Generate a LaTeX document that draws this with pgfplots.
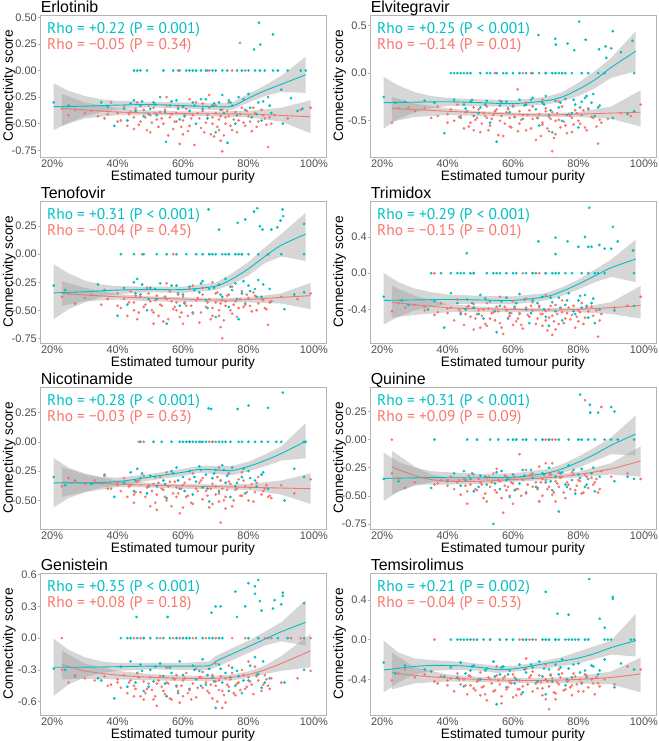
\documentclass[border=0pt]{standalone}
\usepackage{pgfplots}
\pgfplotsset{compat=1.18}
\usepackage{fontspec}
\setmainfont{Liberation Sans}
\newfontfamily\rhofont{PT Sans}
\definecolor{cteal}{HTML}{00BFC4}
\definecolor{cred}{HTML}{F8766D}
\definecolor{bandgray}{HTML}{999999}
\definecolor{frame}{HTML}{B3B3B3}
\definecolor{ticktxt}{HTML}{4D4D4D}
\pgfplotsset{
 every axis title/.style={at={(axis description cs:0.002,1.021)},anchor=base west,inner sep=0,font=\fontsize{16}{16}\selectfont},
 panel/.style={width=286bp,height=142bp,scale only axis,xmin=0.163,xmax=1.037,
  xtick={0.2,0.4,0.6,0.8,1.0},xticklabels={20\%,40\%,60\%,80\%,100\%},
  axis line style={frame,line width=0.6bp},
  every tick/.style={frame,line width=0.6bp},
  tick align=outside, tick pos=left, major tick length=2.5bp,
  ticklabel style={font=\fontsize{11}{11}\selectfont,text=ticktxt,inner sep=0.6bp},
  xlabel={Estimated tumour purity}, ylabel={Connectivity score},
  label style={font=\fontsize{13.7}{14}\selectfont},
  xlabel style={at={(axis description cs:0.5,-0.165)},anchor=base},
  ylabel style={at={(axis description cs:-0.0944,0.5)},anchor=base},
  axis on top, clip=true},
 tpt/.style={only marks,color=cteal,mark=*,mark size=1.15bp,mark options={solid,fill=cteal,draw=none}},
 rpt/.style={only marks,color=cred,mark=*,mark size=1.15bp,mark options={solid,fill=cred,draw=none}},
 band/.style={draw=none,fill=bandgray,fill opacity=0.4,mark=none},
 tline/.style={cteal,line width=0.9bp,mark=none,smooth},
 rline/.style={cred,line width=0.9bp,mark=none,smooth},
}
\tikzset{rho/.style={anchor=base west,inner sep=0,font=\rhofont\fontsize{15.5}{16}\selectfont}}
\begin{document}
\begin{tikzpicture}
\path[use as bounding box] (0bp,0bp) rectangle (659bp,741bp);

% ---------------- 1 Erlotinib
\begin{axis}[panel,at={(40bp,726bp)},anchor=north west,title={Erlotinib},ymin=-0.813,ymax=0.522,
 ytick={-0.75,-0.5,-0.25,0,0.25,0.5},yticklabels={-0.75,-0.50,-0.25,0.00,0.25,0.50}]
\addplot[tpt] coordinates {(0.205,-0.30)(0.25,-0.33)(0.35,-0.30)(0.37,-0.34)(0.39,-0.52)(0.42,-0.36)(0.43,-0.47)(0.44,-0.31)(0.45,-0.28)(0.47,-0.33)(0.48,-0.43)(0.50,-0.36)(0.51,-0.30)(0.52,-0.42)(0.53,-0.25)(0.548,-0.67)(0.56,-0.33)(0.58,-0.28)(0.59,-0.46)(0.60,-0.34)(0.62,-0.38)(0.63,-0.30)(0.64,-0.50)(0.66,-0.36)(0.67,-0.27)(0.69,-0.33)(0.70,-0.58)(0.71,-0.30)(0.72,-0.23)(0.725,-0.40)(0.736,-0.68)(0.74,-0.28)(0.75,-0.33)(0.76,-0.50)(0.77,-0.25)(0.79,-0.37)(0.80,-0.22)(0.81,-0.44)(0.83,-0.30)(0.84,-0.47)(0.86,-0.25)(0.87,-0.40)(0.90,-0.18)(0.905,-0.50)(0.93,-0.26)(0.95,-0.38)(0.965,-0.36)
 (0.455,-0.38)(0.475,-0.29)(0.495,-0.41)(0.515,-0.32)(0.545,-0.39)(0.565,-0.29)(0.585,-0.36)(0.605,-0.43)(0.635,-0.33)(0.655,-0.27)(0.675,-0.45)(0.695,-0.31)(0.715,-0.37)(0.745,-0.30)(0.765,-0.42)(0.785,-0.27)(0.805,-0.35)(0.825,-0.41)(0.845,-0.29)(0.865,-0.33)};
\addplot[rpt] coordinates {(0.23,-0.36)(0.25,-0.42)(0.27,-0.37)(0.30,-0.40)(0.32,-0.38)(0.34,-0.43)(0.36,-0.45)(0.38,-0.30)(0.40,-0.40)(0.41,-0.47)(0.42,-0.34)(0.43,-0.52)(0.44,-0.39)(0.45,-0.44)(0.46,-0.30)(0.47,-0.48)(0.48,-0.37)(0.49,-0.56)(0.50,-0.42)(0.51,-0.35)(0.52,-0.46)(0.53,-0.39)(0.54,-0.50)(0.55,-0.33)(0.56,-0.44)(0.57,-0.55)(0.58,-0.40)(0.59,-0.69)(0.60,-0.47)(0.61,-0.36)(0.62,-0.52)(0.63,-0.42)(0.635,-0.70)(0.64,-0.30)(0.65,-0.45)(0.66,-0.38)(0.665,-0.58)(0.67,-0.49)(0.68,-0.35)(0.69,-0.44)(0.695,-0.62)(0.70,-0.40)(0.705,-0.53)(0.71,-0.46)(0.715,-0.66)(0.72,-0.76)(0.72,-0.37)(0.73,-0.50)(0.74,-0.43)(0.75,-0.56)(0.76,-0.39)(0.77,-0.47)(0.78,-0.35)(0.79,-0.52)(0.80,-0.43)(0.81,-0.57)(0.82,-0.40)(0.83,-0.48)(0.84,-0.37)(0.85,-0.45)(0.86,-0.72)(0.87,-0.50)(0.88,-0.42)(0.92,-0.45)(0.96,-0.37)(0.99,-0.35)(0.55,-0.25)(0.62,-0.27)(0.68,-0.23)(0.60,-0.60)(0.50,-0.58)(0.66,-0.31)(0.74,-0.30)(0.58,-0.48)(0.45,-0.55)
 (0.435,-0.41)(0.455,-0.36)(0.465,-0.51)(0.485,-0.44)(0.495,-0.33)(0.505,-0.49)(0.515,-0.40)(0.525,-0.53)(0.535,-0.45)(0.545,-0.37)(0.555,-0.61)(0.565,-0.41)(0.575,-0.48)(0.585,-0.34)(0.595,-0.53)(0.605,-0.41)(0.615,-0.57)(0.625,-0.45)(0.645,-0.40)(0.655,-0.54)(0.675,-0.42)(0.685,-0.60)(0.69,-0.50)(0.70,-0.33)(0.71,-0.56)(0.715,-0.43)(0.725,-0.61)(0.73,-0.44)(0.735,-0.38)(0.745,-0.52)(0.755,-0.46)(0.765,-0.58)(0.775,-0.41)(0.785,-0.49)(0.795,-0.38)(0.805,-0.48)(0.815,-0.35)(0.825,-0.53)(0.845,-0.42)(0.855,-0.51)(0.865,-0.44)(0.40,-0.48)(0.37,-0.41)
 (0.585,0)(0.675,0)(0.68,0)(0.75,0)(0.79,0)(0.774,0.26)};
\addplot[tpt] coordinates {(0.45,0)(0.46,0)(0.47,0)(0.49,0)(0.54,0)(0.57,0)(0.59,0)(0.61,0)(0.62,0)(0.63,0)(0.64,0)(0.655,0)(0.67,0)(0.69,0)(0.70,0)(0.72,0)(0.735,0)(0.765,0)(0.78,0)(0.80,0)(0.82,0)(0.835,0)(0.85,0)(0.875,0)(0.89,0)(0.92,0)(0.96,0)(0.975,0)(0.832,0.45)(0.875,0.34)(0.836,0.245)(0.817,0.198)};
\addplot[band] coordinates {(0.23,-0.22)(0.3,-0.30)(0.4,-0.355)(0.5,-0.375)(0.6,-0.385)(0.7,-0.385)(0.8,-0.38)(0.9,-0.35)(0.99,-0.28)(0.99,-0.59)(0.9,-0.48)(0.8,-0.44)(0.7,-0.43)(0.6,-0.425)(0.5,-0.42)(0.4,-0.42)(0.3,-0.45)(0.23,-0.52)(0.23,-0.22)};
\addplot[rline] coordinates {(0.23,-0.355)(0.4,-0.39)(0.6,-0.405)(0.8,-0.41)(0.99,-0.435)};
\addplot[band] coordinates {(0.205,-0.12)(0.25,-0.19)(0.3,-0.24)(0.35,-0.27)(0.4,-0.285)(0.5,-0.295)(0.6,-0.30)(0.7,-0.31)(0.75,-0.30)(0.8,-0.22)(0.85,-0.14)(0.9,-0.05)(0.975,0.13)(0.975,-0.21)(0.9,-0.20)(0.85,-0.24)(0.8,-0.30)(0.75,-0.37)(0.7,-0.37)(0.6,-0.36)(0.5,-0.345)(0.4,-0.365)(0.35,-0.39)(0.3,-0.43)(0.25,-0.49)(0.205,-0.56)(0.205,-0.12)};
\addplot[tline] coordinates {(0.205,-0.34)(0.3,-0.335)(0.4,-0.325)(0.5,-0.32)(0.6,-0.33)(0.7,-0.34)(0.75,-0.335)(0.8,-0.26)(0.85,-0.19)(0.9,-0.13)(0.975,-0.04)};
\node[rho,text=cteal] at (axis description cs:0.0245,0.873) {Rho = +0.22 (P = 0.001)};
\node[rho,text=cred] at (axis description cs:0.0245,0.754) {Rho = −0.05 (P = 0.34)};
\end{axis}

% ---------------- 2 Elvitegravir
\begin{axis}[panel,at={(370bp,726bp)},anchor=north west,title={Elvitegravir},ymin=-0.88,ymax=0.61,
 ytick={-0.5,0,0.5},yticklabels={-0.5,0.0,0.5}]
\addplot[tpt] coordinates {(0.205,-0.25)(0.24,-0.31)(0.27,-0.30)(0.33,-0.29)(0.36,-0.31)(0.39,-0.63)(0.42,-0.28)(0.44,-0.47)(0.45,-0.33)(0.47,-0.30)(0.48,-0.45)(0.50,-0.36)(0.52,-0.29)(0.53,-0.52)(0.55,-0.72)(0.56,-0.34)(0.58,-0.30)(0.59,-0.41)(0.60,-0.35)(0.62,-0.28)(0.63,-0.48)(0.64,-0.33)(0.66,-0.26)(0.67,-0.38)(0.68,-0.55)(0.69,-0.31)(0.70,-0.24)(0.71,-0.44)(0.72,-0.62)(0.73,-0.29)(0.74,-0.36)(0.75,-0.50)(0.76,-0.27)(0.78,-0.42)(0.79,-0.33)(0.80,-0.57)(0.81,-0.30)(0.82,-0.26)(0.83,-0.38)(0.84,-0.31)(0.85,-0.45)(0.86,-0.36)(0.905,-0.47)(0.95,-0.43)(0.97,-0.40)
 (0.455,-0.37)(0.475,-0.28)(0.495,-0.42)(0.515,-0.33)(0.545,-0.40)(0.565,-0.30)(0.585,-0.37)(0.605,-0.46)(0.635,-0.34)(0.655,-0.28)(0.675,-0.47)(0.695,-0.33)(0.715,-0.39)(0.745,-0.31)(0.765,-0.44)(0.785,-0.28)(0.805,-0.36)(0.825,-0.24)(0.845,-0.22)(0.865,-0.34)};
\addplot[rpt] coordinates {(0.23,-0.52)(0.25,-0.37)(0.28,-0.36)(0.30,-0.40)(0.33,-0.37)(0.35,-0.47)(0.37,-0.35)(0.40,-0.43)(0.41,-0.38)(0.42,-0.50)(0.43,-0.33)(0.44,-0.45)(0.45,-0.58)(0.46,-0.40)(0.47,-0.52)(0.48,-0.36)(0.49,-0.47)(0.50,-0.62)(0.51,-0.42)(0.52,-0.35)(0.53,-0.55)(0.54,-0.44)(0.55,-0.38)(0.56,-0.50)(0.57,-0.66)(0.58,-0.41)(0.59,-0.47)(0.60,-0.34)(0.614,-0.17)(0.62,-0.53)(0.63,-0.44)(0.64,-0.60)(0.65,-0.39)(0.66,-0.48)(0.67,-0.70)(0.68,-0.43)(0.69,-0.52)(0.70,-0.37)(0.705,-0.58)(0.71,-0.46)(0.72,-0.82)(0.72,-0.41)(0.73,-0.64)(0.74,-0.49)(0.75,-0.35)(0.76,-0.55)(0.77,-0.43)(0.78,-0.62)(0.79,-0.39)(0.80,-0.50)(0.81,-0.44)(0.82,-0.57)(0.83,-0.37)(0.84,-0.46)(0.86,-0.74)(0.87,-0.52)(0.89,-0.48)(0.93,-0.42)(0.96,-0.45)(0.99,-0.33)(0.56,-0.29)(0.64,-0.31)(0.69,-0.28)(0.59,-0.56)(0.52,-0.47)(0.66,-0.35)(0.74,-0.30)(0.62,-0.40)(0.48,-0.60)(0.78,-0.47)
 (0.435,-0.46)(0.455,-0.41)(0.465,-0.56)(0.485,-0.49)(0.495,-0.38)(0.505,-0.53)(0.515,-0.45)(0.525,-0.60)(0.535,-0.48)(0.545,-0.40)(0.555,-0.65)(0.565,-0.45)(0.575,-0.53)(0.585,-0.38)(0.595,-0.57)(0.605,-0.46)(0.615,-0.61)(0.625,-0.49)(0.645,-0.44)(0.655,-0.58)(0.675,-0.47)(0.685,-0.66)(0.69,-0.54)(0.70,-0.40)(0.71,-0.61)(0.715,-0.48)(0.725,-0.68)(0.73,-0.50)(0.735,-0.42)(0.745,-0.57)(0.755,-0.51)(0.765,-0.63)(0.775,-0.45)(0.785,-0.54)(0.795,-0.42)(0.805,-0.53)(0.815,-0.39)(0.825,-0.60)(0.845,-0.47)(0.855,-0.56)(0.865,-0.49)(0.40,-0.52)(0.37,-0.45)
 (0.545,0)(0.63,0)(0.655,0)(0.70,0)(0.75,0)};
\addplot[tpt] coordinates {(0.41,0)(0.42,0)(0.43,0)(0.44,0)(0.45,0)(0.46,0)(0.47,0)(0.50,0)(0.52,0)(0.53,0)(0.55,0)(0.57,0)(0.58,0)(0.60,0)(0.62,0)(0.64,0)(0.66,0)(0.68,0)(0.70,0)(0.72,0)(0.73,0)(0.74,0)(0.75,0)(0.76,0)(0.78,0)(0.81,0)(0.83,0)(0.86,0)(0.88,0)(0.97,0)(0.678,0.40)(0.729,0.36)(0.731,0.30)(0.767,0.31)(0.802,0.54)(0.822,0.35)(0.863,0.25)(0.883,0.28)(0.90,0.26)(0.905,0.44)(0.885,0.16)(0.93,0.22)(0.965,0.34)(0.787,0.24)};
\addplot[band] coordinates {(0.23,-0.25)(0.3,-0.32)(0.4,-0.37)(0.5,-0.40)(0.6,-0.415)(0.7,-0.42)(0.8,-0.41)(0.9,-0.35)(0.99,-0.18)(0.99,-0.56)(0.9,-0.48)(0.8,-0.46)(0.7,-0.46)(0.6,-0.455)(0.5,-0.45)(0.4,-0.44)(0.3,-0.46)(0.23,-0.51)(0.23,-0.25)};
\addplot[rline] coordinates {(0.23,-0.37)(0.4,-0.40)(0.6,-0.43)(0.7,-0.44)(0.8,-0.43)(0.99,-0.41)};
\addplot[band] coordinates {(0.205,-0.04)(0.25,-0.13)(0.3,-0.20)(0.35,-0.24)(0.4,-0.26)(0.5,-0.275)(0.6,-0.285)(0.7,-0.25)(0.75,-0.20)(0.8,-0.10)(0.85,0.02)(0.9,0.16)(0.975,0.44)(0.975,0.02)(0.9,-0.05)(0.85,-0.16)(0.8,-0.24)(0.75,-0.30)(0.7,-0.33)(0.6,-0.355)(0.5,-0.345)(0.4,-0.345)(0.35,-0.37)(0.3,-0.41)(0.25,-0.48)(0.205,-0.58)(0.205,-0.04)};
\addplot[tline] coordinates {(0.205,-0.31)(0.3,-0.305)(0.4,-0.30)(0.5,-0.31)(0.6,-0.32)(0.7,-0.29)(0.75,-0.25)(0.8,-0.17)(0.85,-0.07)(0.9,0.06)(0.975,0.23)};
\node[rho,text=cteal] at (axis description cs:0.0245,0.873) {Rho = +0.25 (P < 0.001)};
\node[rho,text=cred] at (axis description cs:0.0245,0.754) {Rho = −0.14 (P = 0.01)};
\end{axis}

% ---------------- 3 Tenofovir
\begin{axis}[panel,at={(40bp,540bp)},anchor=north west,title={Tenofovir},ymin=-0.792,ymax=0.475,
 ytick={-0.75,-0.5,-0.25,0,0.25},yticklabels={-0.75,-0.50,-0.25,0.00,0.25}]
\addplot[tpt] coordinates {(0.205,-0.28)(0.24,-0.32)(0.27,-0.44)(0.34,-0.27)(0.36,-0.32)(0.40,-0.55)(0.42,-0.30)(0.43,-0.45)(0.45,-0.25)(0.46,-0.22)(0.47,-0.36)(0.49,-0.50)(0.50,-0.30)(0.52,-0.40)(0.53,-0.26)(0.55,-0.62)(0.56,-0.33)(0.58,-0.28)(0.59,-0.46)(0.60,-0.36)(0.62,-0.29)(0.63,-0.52)(0.65,-0.34)(0.66,-0.24)(0.67,-0.41)(0.68,-0.31)(0.70,-0.56)(0.71,-0.27)(0.72,-0.38)(0.73,-0.22)(0.74,-0.47)(0.75,-0.32)(0.76,-0.26)(0.77,-0.58)(0.78,-0.35)(0.79,-0.44)(0.80,-0.28)(0.82,-0.31)(0.83,-0.23)(0.84,-0.38)(0.87,-0.42)(0.91,-0.49)(0.94,-0.36)(0.97,-0.34)
 (0.455,-0.35)(0.475,-0.27)(0.495,-0.40)(0.515,-0.31)(0.545,-0.38)(0.565,-0.28)(0.585,-0.35)(0.605,-0.44)(0.635,-0.32)(0.655,-0.26)(0.675,-0.48)(0.695,-0.30)(0.715,-0.36)(0.745,-0.29)(0.765,-0.40)(0.785,-0.24)(0.805,-0.33)(0.825,-0.38)(0.845,-0.27)(0.865,-0.31)};
\addplot[rpt] coordinates {(0.23,-0.38)(0.25,-0.35)(0.27,-0.44)(0.30,-0.39)(0.32,-0.36)(0.35,-0.45)(0.37,-0.40)(0.40,-0.35)(0.41,-0.48)(0.42,-0.40)(0.43,-0.55)(0.44,-0.33)(0.45,-0.43)(0.46,-0.58)(0.47,-0.38)(0.48,-0.47)(0.49,-0.30)(0.50,-0.42)(0.51,-0.52)(0.52,-0.37)(0.53,-0.45)(0.54,-0.60)(0.55,-0.40)(0.56,-0.33)(0.57,-0.49)(0.58,-0.43)(0.59,-0.56)(0.60,-0.38)(0.61,-0.46)(0.62,-0.31)(0.63,-0.53)(0.64,-0.41)(0.65,-0.61)(0.66,-0.36)(0.67,-0.47)(0.68,-0.40)(0.69,-0.55)(0.70,-0.43)(0.705,-0.34)(0.71,-0.50)(0.715,-0.65)(0.72,-0.75)(0.72,-0.41)(0.73,-0.46)(0.74,-0.36)(0.75,-0.53)(0.76,-0.42)(0.77,-0.48)(0.78,-0.33)(0.79,-0.45)(0.80,-0.39)(0.81,-0.51)(0.82,-0.37)(0.83,-0.44)(0.84,-0.40)(0.85,-0.48)(0.86,-0.63)(0.87,-0.42)(0.90,-0.38)(0.95,-0.40)(0.99,-0.35)(0.55,-0.26)(0.63,-0.28)(0.69,-0.25)(0.60,-0.62)(0.51,-0.62)(0.66,-0.30)(0.75,-0.29)(0.58,-0.50)(0.45,-0.50)
 (0.435,-0.43)(0.455,-0.37)(0.465,-0.52)(0.485,-0.45)(0.495,-0.35)(0.505,-0.50)(0.515,-0.41)(0.525,-0.55)(0.535,-0.46)(0.545,-0.38)(0.555,-0.58)(0.565,-0.42)(0.575,-0.47)(0.585,-0.36)(0.595,-0.52)(0.605,-0.43)(0.615,-0.55)(0.625,-0.46)(0.645,-0.39)(0.655,-0.52)(0.675,-0.43)(0.685,-0.58)(0.69,-0.48)(0.70,-0.35)(0.71,-0.55)(0.715,-0.44)(0.725,-0.59)(0.73,-0.42)(0.735,-0.37)(0.745,-0.50)(0.755,-0.45)(0.765,-0.56)(0.775,-0.40)(0.785,-0.47)(0.795,-0.36)(0.805,-0.46)(0.815,-0.34)(0.825,-0.50)(0.845,-0.41)(0.855,-0.49)(0.865,-0.43)(0.40,-0.46)(0.37,-0.40)
 (0.475,0)(0.57,0)(0.68,0)(0.74,0)(0.78,0)(0.86,0)};
\addplot[tpt] coordinates {(0.41,0)(0.45,0)(0.48,0)(0.52,0)(0.55,0)(0.58,0)(0.61,0)(0.64,0)(0.66,0)(0.68,0)(0.69,0)(0.70,0)(0.72,0)(0.73,0)(0.74,0)(0.76,0)(0.77,0)(0.78,0)(0.80,0)(0.83,0)(0.86,0)(0.90,0)(0.97,0)(0.678,0.40)(0.71,0.22)(0.767,0.28)(0.79,0.31)(0.827,0.41)(0.817,0.38)(0.835,0.25)(0.843,0.22)(0.87,0.22)(0.888,0.24)(0.898,0.30)(0.906,0.34)(0.904,0.40)(0.97,0.27)};
\addplot[band] coordinates {(0.23,-0.24)(0.3,-0.30)(0.4,-0.355)(0.5,-0.375)(0.6,-0.385)(0.7,-0.39)(0.8,-0.385)(0.9,-0.35)(0.99,-0.255)(0.99,-0.49)(0.9,-0.44)(0.8,-0.43)(0.7,-0.43)(0.6,-0.425)(0.5,-0.42)(0.4,-0.405)(0.3,-0.42)(0.23,-0.46)(0.23,-0.24)};
\addplot[rline] coordinates {(0.23,-0.35)(0.4,-0.38)(0.6,-0.40)(0.75,-0.41)(0.9,-0.385)(0.99,-0.37)};
\addplot[band] coordinates {(0.205,-0.09)(0.25,-0.17)(0.3,-0.235)(0.35,-0.27)(0.4,-0.285)(0.5,-0.29)(0.6,-0.29)(0.7,-0.255)(0.75,-0.17)(0.8,-0.07)(0.85,0.06)(0.9,0.18)(0.975,0.37)(0.975,-0.06)(0.9,-0.02)(0.85,-0.08)(0.8,-0.19)(0.75,-0.27)(0.7,-0.32)(0.6,-0.345)(0.5,-0.34)(0.4,-0.355)(0.35,-0.38)(0.3,-0.43)(0.25,-0.49)(0.205,-0.58)(0.205,-0.09)};
\addplot[tline] coordinates {(0.205,-0.345)(0.3,-0.335)(0.4,-0.32)(0.5,-0.315)(0.6,-0.315)(0.7,-0.285)(0.75,-0.22)(0.8,-0.13)(0.85,-0.02)(0.9,0.08)(0.975,0.18)};
\node[rho,text=cteal] at (axis description cs:0.0245,0.873) {Rho = +0.31 (P < 0.001)};
\node[rho,text=cred] at (axis description cs:0.0245,0.754) {Rho = −0.04 (P = 0.45)};
\end{axis}

% ---------------- 4 Trimidox
\begin{axis}[panel,at={(370bp,540bp)},anchor=north west,title={Trimidox},ymin=-0.769,ymax=0.795,
 ytick={-0.4,0,0.4},yticklabels={-0.4,0.0,0.4}]
\addplot[tpt] coordinates {(0.205,-0.26)(0.26,-0.30)(0.28,-0.35)(0.34,-0.40)(0.36,-0.31)(0.39,-0.60)(0.41,-0.22)(0.43,-0.33)(0.44,-0.45)(0.46,-0.29)(0.48,-0.38)(0.50,-0.24)(0.51,-0.50)(0.53,-0.31)(0.55,-0.65)(0.56,-0.36)(0.58,-0.27)(0.59,-0.44)(0.61,-0.33)(0.62,-0.23)(0.64,-0.40)(0.65,-0.55)(0.66,-0.30)(0.68,-0.37)(0.69,-0.26)(0.70,-0.48)(0.71,-0.58)(0.72,-0.32)(0.73,-0.42)(0.74,-0.27)(0.75,-0.52)(0.76,-0.35)(0.77,-0.22)(0.79,-0.45)(0.80,-0.30)(0.81,-0.38)(0.82,-0.24)(0.83,-0.49)(0.84,-0.33)(0.85,-0.55)(0.91,-0.41)(0.97,-0.36)
 (0.455,-0.40)(0.475,-0.33)(0.495,-0.45)(0.515,-0.28)(0.545,-0.42)(0.565,-0.31)(0.585,-0.50)(0.605,-0.37)(0.635,-0.29)(0.655,-0.44)(0.675,-0.33)(0.695,-0.40)(0.715,-0.27)(0.745,-0.38)(0.765,-0.30)(0.785,-0.42)(0.805,-0.25)(0.825,-0.36)(0.845,-0.28)(0.865,-0.40)};
\addplot[rpt] coordinates {(0.23,-0.42)(0.25,-0.33)(0.27,-0.38)(0.30,-0.35)(0.33,-0.41)(0.36,-0.46)(0.38,-0.33)(0.40,-0.44)(0.41,-0.38)(0.42,-0.52)(0.43,-0.29)(0.44,-0.43)(0.45,-0.57)(0.46,-0.37)(0.47,-0.48)(0.48,-0.34)(0.49,-0.45)(0.50,-0.60)(0.51,-0.40)(0.52,-0.33)(0.53,-0.50)(0.54,-0.43)(0.55,-0.37)(0.56,-0.55)(0.57,-0.67)(0.58,-0.41)(0.59,-0.47)(0.60,-0.31)(0.61,-0.53)(0.62,-0.44)(0.63,-0.61)(0.64,-0.38)(0.65,-0.48)(0.66,-0.41)(0.67,-0.56)(0.68,-0.36)(0.69,-0.45)(0.70,-0.52)(0.705,-0.63)(0.71,-0.40)(0.72,-0.68)(0.72,-0.47)(0.73,-0.35)(0.74,-0.56)(0.75,-0.43)(0.76,-0.50)(0.77,-0.38)(0.78,-0.46)(0.79,-0.60)(0.80,-0.41)(0.81,-0.33)(0.82,-0.49)(0.83,-0.42)(0.84,-0.37)(0.86,-0.70)(0.87,-0.45)(0.91,-0.38)(0.95,-0.36)(0.99,-0.26)(0.56,-0.26)(0.64,-0.28)(0.70,-0.24)(0.60,-0.57)(0.52,-0.58)(0.66,-0.32)(0.75,-0.30)(0.62,-0.45)(0.48,-0.62)(0.80,-0.53)(0.33,-0.37)
 (0.435,-0.40)(0.455,-0.45)(0.465,-0.36)(0.485,-0.50)(0.495,-0.41)(0.505,-0.47)(0.515,-0.56)(0.525,-0.39)(0.535,-0.44)(0.545,-0.52)(0.555,-0.42)(0.565,-0.60)(0.575,-0.37)(0.585,-0.49)(0.595,-0.44)(0.605,-0.39)(0.615,-0.50)(0.625,-0.57)(0.645,-0.46)(0.655,-0.36)(0.675,-0.50)(0.685,-0.45)(0.69,-0.58)(0.70,-0.42)(0.71,-0.49)(0.715,-0.36)(0.725,-0.53)(0.73,-0.62)(0.735,-0.45)(0.745,-0.39)(0.755,-0.55)(0.765,-0.44)(0.775,-0.51)(0.785,-0.36)(0.795,-0.48)(0.805,-0.43)(0.815,-0.56)(0.825,-0.38)(0.845,-0.47)(0.855,-0.41)(0.865,-0.52)(0.40,-0.39)(0.37,-0.43)
 (0.36,0)(0.48,0)(0.63,0)(0.66,0)(0.68,0)(0.70,0)};
\addplot[tpt] coordinates {(0.35,0)(0.38,0)(0.41,0)(0.43,0)(0.44,0)(0.45,0)(0.47,0)(0.48,0)(0.52,0)(0.54,0)(0.55,0)(0.56,0)(0.58,0)(0.60,0)(0.61,0)(0.64,0)(0.66,0)(0.67,0)(0.70,0)(0.72,0)(0.73,0)(0.74,0)(0.76,0)(0.78,0)(0.81,0)(0.83,0)(0.85,0)(0.86,0)(0.88,0)(0.97,0)(0.459,0.22)(0.678,0.35)(0.73,0.39)(0.73,0.21)(0.767,0.35)(0.80,0.29)(0.833,0.72)(0.83,0.29)(0.82,0.40)(0.84,0.29)(0.864,0.31)(0.88,0.27)(0.90,0.27)(0.905,0.51)(0.92,0.35)(0.967,0.25)};
\addplot[band] coordinates {(0.23,-0.14)(0.3,-0.25)(0.4,-0.34)(0.5,-0.37)(0.6,-0.38)(0.7,-0.385)(0.8,-0.38)(0.9,-0.32)(0.99,-0.14)(0.99,-0.50)(0.9,-0.45)(0.8,-0.43)(0.7,-0.43)(0.6,-0.43)(0.5,-0.43)(0.4,-0.43)(0.3,-0.46)(0.23,-0.49)(0.23,-0.14)};
\addplot[rline] coordinates {(0.23,-0.32)(0.4,-0.38)(0.6,-0.40)(0.75,-0.405)(0.9,-0.38)(0.99,-0.355)};
\addplot[band] coordinates {(0.205,0.0)(0.25,-0.10)(0.3,-0.17)(0.35,-0.21)(0.4,-0.235)(0.5,-0.25)(0.6,-0.255)(0.7,-0.22)(0.75,-0.155)(0.8,-0.07)(0.85,0.04)(0.9,0.15)(0.975,0.37)(0.975,-0.10)(0.9,-0.04)(0.85,-0.10)(0.8,-0.18)(0.75,-0.25)(0.7,-0.30)(0.6,-0.345)(0.5,-0.335)(0.4,-0.345)(0.35,-0.37)(0.3,-0.41)(0.25,-0.48)(0.205,-0.565)(0.205,0.0)};
\addplot[tline] coordinates {(0.205,-0.30)(0.3,-0.295)(0.4,-0.29)(0.5,-0.295)(0.6,-0.30)(0.7,-0.26)(0.75,-0.20)(0.8,-0.12)(0.85,-0.03)(0.9,0.06)(0.975,0.155)};
\node[rho,text=cteal] at (axis description cs:0.0245,0.873) {Rho = +0.29 (P < 0.001)};
\node[rho,text=cred] at (axis description cs:0.0245,0.754) {Rho = −0.15 (P = 0.01)};
\end{axis}

% ---------------- 5 Nicotinamide
\begin{axis}[panel,at={(40bp,354bp)},anchor=north west,title={Nicotinamide},ymin=-0.744,ymax=0.468,
 ytick={-0.5,-0.25,0,0.25},yticklabels={-0.50,-0.25,0.00,0.25}]
\addplot[tpt] coordinates {(0.205,-0.30)(0.24,-0.37)(0.27,-0.33)(0.32,-0.36)(0.36,-0.29)(0.39,-0.47)(0.42,-0.35)(0.44,-0.26)(0.45,-0.42)(0.46,-0.23)(0.47,-0.31)(0.49,-0.44)(0.50,-0.29)(0.52,-0.38)(0.54,-0.33)(0.55,-0.48)(0.57,-0.27)(0.58,-0.22)(0.59,-0.40)(0.60,-0.30)(0.62,-0.25)(0.63,-0.45)(0.64,-0.34)(0.65,-0.21)(0.66,-0.39)(0.67,-0.28)(0.68,-0.51)(0.69,-0.31)(0.70,-0.24)(0.71,-0.42)(0.72,-0.20)(0.73,-0.35)(0.74,-0.27)(0.745,-0.47)(0.75,-0.22)(0.76,-0.38)(0.78,-0.30)(0.79,-0.44)(0.80,-0.25)(0.82,-0.33)(0.84,-0.28)(0.86,-0.40)(0.91,-0.50)(0.94,-0.23)(0.97,-0.30)
 (0.455,-0.33)(0.475,-0.27)(0.495,-0.38)(0.515,-0.30)(0.545,-0.36)(0.565,-0.25)(0.585,-0.33)(0.605,-0.42)(0.635,-0.30)(0.655,-0.24)(0.675,-0.40)(0.695,-0.27)(0.715,-0.33)(0.725,-0.24)(0.735,-0.29)(0.765,-0.35)(0.785,-0.23)(0.805,-0.31)(0.825,-0.38)(0.845,-0.26)};
\addplot[rpt] coordinates {(0.23,-0.38)(0.25,-0.31)(0.27,-0.34)(0.30,-0.36)(0.33,-0.33)(0.36,-0.28)(0.38,-0.40)(0.40,-0.35)(0.41,-0.42)(0.42,-0.31)(0.43,-0.47)(0.44,-0.37)(0.45,-0.52)(0.46,-0.34)(0.47,-0.43)(0.48,-0.29)(0.49,-0.39)(0.50,-0.55)(0.51,-0.36)(0.52,-0.45)(0.53,-0.30)(0.54,-0.41)(0.55,-0.50)(0.56,-0.34)(0.57,-0.44)(0.58,-0.39)(0.59,-0.61)(0.60,-0.37)(0.61,-0.47)(0.62,-0.32)(0.63,-0.53)(0.64,-0.40)(0.65,-0.35)(0.66,-0.49)(0.67,-0.42)(0.68,-0.56)(0.69,-0.36)(0.70,-0.45)(0.705,-0.30)(0.71,-0.51)(0.715,-0.69)(0.72,-0.40)(0.73,-0.47)(0.74,-0.34)(0.75,-0.55)(0.76,-0.41)(0.77,-0.32)(0.78,-0.46)(0.79,-0.38)(0.80,-0.50)(0.81,-0.36)(0.82,-0.43)(0.83,-0.30)(0.84,-0.45)(0.85,-0.40)(0.86,-0.47)(0.87,-0.48)(0.90,-0.37)(0.94,-0.44)(0.99,-0.32)(0.55,-0.26)(0.63,-0.27)(0.71,-0.22)(0.60,-0.56)(0.52,-0.58)(0.66,-0.31)(0.74,-0.27)(0.58,-0.47)(0.45,-0.45)(0.78,-0.26)
 (0.435,-0.38)(0.455,-0.43)(0.465,-0.33)(0.485,-0.47)(0.495,-0.37)(0.505,-0.42)(0.515,-0.52)(0.525,-0.35)(0.535,-0.40)(0.545,-0.47)(0.555,-0.38)(0.565,-0.55)(0.575,-0.34)(0.585,-0.44)(0.595,-0.40)(0.605,-0.35)(0.615,-0.46)(0.625,-0.52)(0.645,-0.42)(0.655,-0.33)(0.675,-0.46)(0.685,-0.40)(0.69,-0.53)(0.70,-0.38)(0.71,-0.44)(0.715,-0.33)(0.725,-0.50)(0.73,-0.57)(0.735,-0.41)(0.745,-0.36)(0.755,-0.50)(0.765,-0.40)(0.775,-0.46)(0.785,-0.33)(0.795,-0.43)(0.805,-0.39)(0.815,-0.51)(0.825,-0.35)(0.845,-0.42)(0.855,-0.37)(0.865,-0.46)(0.40,-0.37)(0.37,-0.40)
 (0.465,0)(0.48,0)(0.62,0)(0.655,0)(0.68,0)(0.70,0)};
\addplot[tpt] coordinates {(0.47,0)(0.51,0)(0.535,0)(0.565,0)(0.59,0)(0.60,0)(0.61,0)(0.62,0)(0.63,0)(0.64,0)(0.65,0)(0.66,0)(0.67,0)(0.69,0)(0.71,0)(0.72,0)(0.73,0)(0.745,0)(0.77,0)(0.78,0)(0.80,0)(0.82,0)(0.84,0)(0.86,0)(0.885,0)(0.90,0)(0.97,0)(0.975,0)(0.678,0.286)(0.686,0.28)(0.767,0.28)(0.80,0.31)(0.86,0.29)(0.905,0.42)};
\addplot[band] coordinates {(0.23,-0.215)(0.3,-0.28)(0.4,-0.33)(0.5,-0.35)(0.6,-0.36)(0.7,-0.365)(0.8,-0.36)(0.9,-0.33)(0.99,-0.27)(0.99,-0.53)(0.9,-0.45)(0.8,-0.41)(0.7,-0.405)(0.6,-0.40)(0.5,-0.39)(0.4,-0.385)(0.3,-0.43)(0.23,-0.47)(0.23,-0.215)};
\addplot[rline] coordinates {(0.23,-0.345)(0.5,-0.37)(0.75,-0.385)(0.99,-0.40)};
\addplot[band] coordinates {(0.205,-0.14)(0.25,-0.22)(0.3,-0.27)(0.35,-0.30)(0.4,-0.305)(0.5,-0.275)(0.6,-0.23)(0.65,-0.205)(0.7,-0.205)(0.75,-0.205)(0.8,-0.17)(0.85,-0.11)(0.9,-0.04)(0.975,0.16)(0.975,-0.14)(0.9,-0.16)(0.85,-0.21)(0.8,-0.25)(0.75,-0.285)(0.7,-0.275)(0.65,-0.265)(0.6,-0.29)(0.5,-0.33)(0.4,-0.375)(0.35,-0.39)(0.3,-0.43)(0.25,-0.48)(0.205,-0.56)(0.205,-0.14)};
\addplot[tline] coordinates {(0.205,-0.35)(0.3,-0.35)(0.4,-0.34)(0.5,-0.30)(0.6,-0.26)(0.65,-0.235)(0.7,-0.24)(0.75,-0.245)(0.8,-0.21)(0.85,-0.16)(0.9,-0.10)(0.975,0.005)};
\node[rho,text=cteal] at (axis description cs:0.0245,0.873) {Rho = +0.28 (P < 0.001)};
\node[rho,text=cred] at (axis description cs:0.0245,0.754) {Rho = −0.03 (P = 0.63)};
\end{axis}

% ---------------- 6 Quinine
\begin{axis}[panel,at={(370bp,354bp)},anchor=north west,title={Quinine},ymin=-0.795,ymax=0.468,
 ytick={-0.75,-0.5,-0.25,0,0.25},yticklabels={-0.75,-0.50,-0.25,0.00,0.25}]
\addplot[tpt] coordinates {(0.205,-0.35)(0.25,-0.37)(0.27,-0.43)(0.33,-0.34)(0.35,-0.43)(0.40,-0.37)(0.42,-0.30)(0.44,-0.41)(0.45,-0.28)(0.47,-0.35)(0.48,-0.46)(0.50,-0.32)(0.52,-0.40)(0.54,-0.75)(0.55,-0.29)(0.56,-0.44)(0.58,-0.36)(0.59,-0.51)(0.60,-0.31)(0.62,-0.39)(0.63,-0.27)(0.64,-0.47)(0.66,-0.34)(0.67,-0.42)(0.68,-0.55)(0.69,-0.30)(0.70,-0.38)(0.71,-0.25)(0.72,-0.45)(0.73,-0.33)(0.74,-0.64)(0.75,-0.29)(0.76,-0.40)(0.77,-0.23)(0.78,-0.36)(0.79,-0.48)(0.80,-0.31)(0.81,-0.26)(0.82,-0.42)(0.83,-0.35)(0.84,-0.30)(0.85,-0.46)(0.91,-0.37)(0.95,-0.33)(0.97,-0.35)
 (0.455,-0.36)(0.475,-0.30)(0.495,-0.42)(0.515,-0.33)(0.545,-0.39)(0.565,-0.28)(0.585,-0.35)(0.605,-0.45)(0.635,-0.32)(0.655,-0.27)(0.675,-0.43)(0.695,-0.31)(0.715,-0.37)(0.745,-0.30)(0.765,-0.42)(0.785,-0.27)(0.805,-0.34)(0.825,-0.40)(0.845,-0.25)(0.865,-0.33)};
\addplot[rpt] coordinates {(0.23,-0.30)(0.25,-0.35)(0.27,-0.43)(0.30,-0.38)(0.33,-0.34)(0.36,-0.40)(0.38,-0.36)(0.40,-0.41)(0.41,-0.33)(0.42,-0.44)(0.43,-0.38)(0.44,-0.49)(0.45,-0.35)(0.46,-0.57)(0.47,-0.40)(0.48,-0.31)(0.49,-0.45)(0.50,-0.38)(0.51,-0.52)(0.52,-0.34)(0.53,-0.42)(0.54,-0.30)(0.55,-0.47)(0.56,-0.37)(0.57,-0.65)(0.575,-0.41)(0.58,-0.33)(0.59,-0.50)(0.60,-0.39)(0.61,-0.44)(0.62,-0.13)(0.63,-0.36)(0.64,-0.48)(0.65,-0.32)(0.66,-0.42)(0.67,-0.38)(0.68,-0.55)(0.69,-0.35)(0.70,-0.21)(0.705,-0.44)(0.71,-0.30)(0.72,-0.49)(0.72,-0.21)(0.73,-0.37)(0.74,-0.42)(0.75,-0.33)(0.76,-0.52)(0.77,-0.40)(0.78,-0.29)(0.79,-0.45)(0.80,-0.36)(0.81,-0.48)(0.82,-0.31)(0.83,-0.43)(0.84,-0.34)(0.85,-0.38)(0.86,-0.47)(0.87,-0.28)(0.90,-0.33)(0.95,-0.30)(0.99,-0.35)(0.55,-0.26)(0.64,-0.27)(0.68,-0.24)(0.60,-0.57)(0.52,-0.55)(0.66,-0.30)(0.74,-0.29)(0.58,-0.45)(0.46,-0.46)
 (0.435,-0.36)(0.455,-0.41)(0.465,-0.32)(0.485,-0.44)(0.495,-0.35)(0.505,-0.40)(0.515,-0.48)(0.525,-0.33)(0.535,-0.38)(0.545,-0.45)(0.555,-0.36)(0.565,-0.52)(0.575,-0.32)(0.585,-0.42)(0.595,-0.38)(0.605,-0.33)(0.615,-0.44)(0.625,-0.50)(0.645,-0.40)(0.655,-0.31)(0.675,-0.44)(0.685,-0.38)(0.69,-0.50)(0.70,-0.36)(0.71,-0.42)(0.715,-0.31)(0.725,-0.47)(0.73,-0.55)(0.735,-0.39)(0.745,-0.34)(0.755,-0.47)(0.765,-0.38)(0.775,-0.44)(0.785,-0.31)(0.795,-0.41)(0.805,-0.37)(0.815,-0.47)(0.825,-0.33)(0.845,-0.40)(0.855,-0.35)(0.865,-0.44)(0.40,-0.36)(0.37,-0.39)
 (0.23,0)(0.61,0)(0.64,0)(0.69,0)(0.70,0)(0.71,0)(0.72,0)(0.73,0)(0.80,0)(0.82,0.35)(0.87,0.29)};
\addplot[tpt] coordinates {(0.36,0)(0.46,0)(0.49,0)(0.53,0)(0.555,0)(0.585,0)(0.60,0)(0.61,0)(0.63,0)(0.64,0)(0.67,0)(0.69,0)(0.71,0)(0.74,0)(0.77,0)(0.80,0)(0.81,0)(0.83,0)(0.85,0)(0.88,0)(0.90,0)(0.92,0)(0.97,0)(0.805,0.40)(0.835,0.31)(0.836,0.24)(0.86,0.24)(0.90,0.29)(0.91,0.25)};
\addplot[band] coordinates {(0.23,-0.10)(0.3,-0.24)(0.35,-0.31)(0.4,-0.34)(0.5,-0.345)(0.6,-0.335)(0.7,-0.32)(0.8,-0.285)(0.9,-0.21)(0.99,-0.06)(0.99,-0.33)(0.9,-0.31)(0.8,-0.335)(0.7,-0.36)(0.6,-0.375)(0.5,-0.395)(0.4,-0.40)(0.35,-0.40)(0.3,-0.40)(0.23,-0.49)(0.23,-0.10)};
\addplot[rline] coordinates {(0.23,-0.245)(0.3,-0.32)(0.35,-0.355)(0.4,-0.37)(0.5,-0.37)(0.6,-0.355)(0.7,-0.34)(0.8,-0.31)(0.9,-0.26)(0.99,-0.19)};
\addplot[band] coordinates {(0.205,-0.115)(0.25,-0.20)(0.3,-0.25)(0.35,-0.28)(0.4,-0.29)(0.5,-0.305)(0.6,-0.30)(0.7,-0.265)(0.75,-0.22)(0.8,-0.15)(0.85,-0.07)(0.9,0.02)(0.975,0.215)(0.975,-0.14)(0.9,-0.13)(0.85,-0.19)(0.8,-0.25)(0.75,-0.30)(0.7,-0.34)(0.6,-0.365)(0.5,-0.36)(0.4,-0.37)(0.35,-0.38)(0.3,-0.41)(0.25,-0.46)(0.205,-0.545)(0.205,-0.115)};
\addplot[tline] coordinates {(0.205,-0.345)(0.3,-0.34)(0.4,-0.335)(0.5,-0.335)(0.6,-0.335)(0.7,-0.30)(0.75,-0.26)(0.8,-0.20)(0.85,-0.13)(0.9,-0.05)(0.975,0.05)};
\node[rho,text=cteal] at (axis description cs:0.0245,0.873) {Rho = +0.31 (P < 0.001)};
\node[rho,text=cred] at (axis description cs:0.0245,0.754) {Rho = +0.09 (P = 0.09)};
\end{axis}

% ---------------- 7 Genistein
\begin{axis}[panel,at={(40bp,168bp)},anchor=north west,title={Genistein},ymin=-0.727,ymax=0.616,
 ytick={-0.6,-0.3,0,0.3,0.6},yticklabels={-0.6,-0.3,0.0,0.3,0.6}]
\addplot[tpt] coordinates {(0.205,-0.29)(0.24,-0.30)(0.27,-0.36)(0.34,-0.38)(0.35,-0.40)(0.39,-0.57)(0.41,-0.27)(0.43,-0.46)(0.44,-0.22)(0.46,-0.33)(0.47,-0.25)(0.48,-0.50)(0.50,-0.30)(0.51,-0.41)(0.53,-0.24)(0.54,-0.36)(0.55,-0.55)(0.56,-0.28)(0.58,-0.45)(0.59,-0.22)(0.60,-0.35)(0.62,-0.48)(0.63,-0.26)(0.64,-0.39)(0.65,-0.31)(0.66,-0.20)(0.67,-0.44)(0.68,-0.29)(0.69,-0.37)(0.70,-0.66)(0.71,-0.25)(0.72,-0.42)(0.73,-0.33)(0.74,-0.50)(0.75,-0.28)(0.76,-0.45)(0.77,-0.36)(0.78,-0.52)(0.80,-0.40)(0.82,-0.18)(0.83,-0.34)(0.84,-0.47)(0.85,-0.42)(0.91,-0.42)(0.97,-0.30)
 (0.455,-0.42)(0.475,-0.31)(0.495,-0.46)(0.515,-0.27)(0.545,-0.43)(0.565,-0.33)(0.585,-0.52)(0.605,-0.38)(0.635,-0.30)(0.655,-0.45)(0.675,-0.35)(0.695,-0.41)(0.715,-0.29)(0.745,-0.37)(0.765,-0.31)(0.785,-0.40)(0.805,-0.26)(0.825,-0.35)(0.845,-0.22)(0.865,-0.38)};
\addplot[rpt] coordinates {(0.23,-0.30)(0.25,-0.42)(0.27,-0.35)(0.30,-0.38)(0.33,-0.40)(0.36,-0.36)(0.38,-0.44)(0.40,-0.39)(0.41,-0.47)(0.42,-0.35)(0.43,-0.52)(0.44,-0.40)(0.45,-0.45)(0.46,-0.33)(0.47,-0.55)(0.48,-0.41)(0.49,-0.48)(0.50,-0.37)(0.51,-0.58)(0.52,-0.64)(0.52,-0.43)(0.53,-0.36)(0.54,-0.50)(0.55,-0.42)(0.56,-0.57)(0.57,-0.38)(0.58,-0.46)(0.59,-0.61)(0.60,-0.40)(0.61,-0.33)(0.62,-0.49)(0.63,-0.43)(0.64,-0.56)(0.65,-0.37)(0.66,-0.47)(0.67,-0.42)(0.68,-0.52)(0.69,-0.35)(0.70,-0.45)(0.705,-0.60)(0.71,-0.40)(0.72,-0.50)(0.72,-0.66)(0.73,-0.38)(0.74,-0.46)(0.75,-0.33)(0.76,-0.54)(0.77,-0.42)(0.78,-0.30)(0.79,-0.48)(0.80,-0.37)(0.81,-0.44)(0.82,-0.27)(0.83,-0.40)(0.84,-0.50)(0.85,-0.35)(0.86,-0.45)(0.87,-0.38)(0.90,-0.42)(0.95,-0.38)(0.99,-0.31)(0.55,-0.28)(0.64,-0.29)(0.70,-0.24)(0.60,-0.55)(0.48,-0.58)(0.66,-0.32)(0.74,-0.26)(0.58,-0.35)(0.45,-0.55)(0.80,-0.22)
 (0.435,-0.42)(0.455,-0.48)(0.465,-0.37)(0.485,-0.52)(0.495,-0.43)(0.505,-0.49)(0.515,-0.55)(0.525,-0.40)(0.535,-0.46)(0.545,-0.53)(0.555,-0.43)(0.565,-0.58)(0.575,-0.39)(0.585,-0.50)(0.595,-0.45)(0.605,-0.38)(0.615,-0.52)(0.625,-0.58)(0.645,-0.47)(0.655,-0.37)(0.675,-0.50)(0.685,-0.44)(0.69,-0.57)(0.70,-0.41)(0.71,-0.49)(0.715,-0.36)(0.725,-0.54)(0.73,-0.61)(0.735,-0.44)(0.745,-0.39)(0.755,-0.52)(0.765,-0.43)(0.775,-0.49)(0.785,-0.35)(0.795,-0.46)(0.805,-0.41)(0.815,-0.53)(0.825,-0.36)(0.845,-0.44)(0.855,-0.39)(0.865,-0.48)(0.40,-0.42)(0.37,-0.45)
 (0.23,0)(0.45,0)(0.47,0)(0.53,0)(0.57,0)(0.59,0)(0.63,0)(0.67,0)(0.70,0)(0.75,0)(0.79,0)(0.85,0)(0.87,0)(0.93,0)(0.96,0)(0.99,0)};
\addplot[tpt] coordinates {(0.41,0)(0.43,0)(0.44,0)(0.46,0)(0.48,0)(0.50,0)(0.52,0)(0.54,0)(0.56,0)(0.58,0)(0.60,0)(0.61,0)(0.62,0)(0.64,0)(0.66,0)(0.68,0)(0.69,0)(0.71,0)(0.72,0)(0.80,0)(0.83,0)(0.86,0)(0.89,0)(0.92,0)(0.97,0)(0.458,0.20)(0.553,0.20)(0.687,0.24)(0.70,0.30)(0.715,0.30)(0.76,0.44)(0.765,0.20)(0.79,0.30)(0.80,0.52)(0.82,0.49)(0.83,0.55)(0.82,0.42)(0.835,0.35)(0.84,0.26)(0.875,0.28)(0.88,0.36)(0.90,0.32)(0.905,0.40)(0.905,0.43)(0.97,0.33)};
\addplot[band] coordinates {(0.23,-0.12)(0.3,-0.24)(0.4,-0.31)(0.5,-0.34)(0.6,-0.355)(0.7,-0.355)(0.75,-0.345)(0.8,-0.315)(0.85,-0.26)(0.9,-0.17)(0.99,0.04)(0.99,-0.275)(0.9,-0.31)(0.85,-0.34)(0.8,-0.375)(0.75,-0.40)(0.7,-0.405)(0.6,-0.405)(0.5,-0.40)(0.4,-0.39)(0.3,-0.385)(0.23,-0.39)(0.23,-0.12)};
\addplot[rline] coordinates {(0.23,-0.25)(0.3,-0.31)(0.4,-0.35)(0.5,-0.37)(0.6,-0.38)(0.7,-0.38)(0.75,-0.37)(0.8,-0.345)(0.85,-0.30)(0.9,-0.24)(0.99,-0.12)};
\addplot[band] coordinates {(0.205,-0.005)(0.25,-0.11)(0.3,-0.18)(0.35,-0.22)(0.4,-0.235)(0.5,-0.235)(0.6,-0.235)(0.68,-0.22)(0.7,-0.17)(0.75,-0.095)(0.8,-0.025)(0.85,0.06)(0.9,0.15)(0.975,0.36)(0.975,-0.07)(0.9,-0.03)(0.85,-0.07)(0.8,-0.14)(0.75,-0.21)(0.7,-0.275)(0.68,-0.30)(0.6,-0.30)(0.5,-0.295)(0.4,-0.31)(0.35,-0.33)(0.3,-0.37)(0.25,-0.44)(0.205,-0.545)(0.205,-0.005)};
\addplot[tline] coordinates {(0.205,-0.275)(0.3,-0.275)(0.4,-0.27)(0.5,-0.265)(0.6,-0.265)(0.68,-0.26)(0.7,-0.22)(0.75,-0.15)(0.8,-0.08)(0.85,-0.01)(0.9,0.06)(0.975,0.15)};
\node[rho,text=cteal] at (axis description cs:0.0245,0.873) {Rho = +0.35 (P < 0.001)};
\node[rho,text=cred] at (axis description cs:0.0245,0.754) {Rho = +0.08 (P = 0.18)};
\end{axis}

% ---------------- 8 Temsirolimus
\begin{axis}[panel,at={(370bp,168bp)},anchor=north west,title={Temsirolimus},ymin=-0.758,ymax=0.67,
 ytick={-0.4,0,0.4},yticklabels={-0.4,0.0,0.4}]
\addplot[tpt] coordinates {(0.205,-0.23)(0.24,-0.34)(0.27,-0.26)(0.33,-0.30)(0.35,-0.32)(0.39,-0.37)(0.41,-0.28)(0.43,-0.38)(0.44,-0.23)(0.45,-0.47)(0.47,-0.31)(0.48,-0.26)(0.50,-0.40)(0.52,-0.29)(0.54,-0.22)(0.55,-0.65)(0.56,-0.35)(0.57,-0.27)(0.58,-0.48)(0.59,-0.31)(0.61,-0.40)(0.62,-0.25)(0.63,-0.53)(0.64,-0.33)(0.66,-0.28)(0.67,-0.44)(0.68,-0.22)(0.69,-0.37)(0.70,-0.55)(0.71,-0.30)(0.72,-0.42)(0.73,-0.25)(0.74,-0.35)(0.75,-0.20)(0.76,-0.46)(0.77,-0.29)(0.78,-0.38)(0.80,-0.24)(0.81,-0.44)(0.82,-0.31)(0.84,-0.26)(0.86,-0.35)(0.88,-0.20)(0.91,-0.48)(0.93,-0.24)(0.97,-0.30)
 (0.455,-0.34)(0.475,-0.27)(0.495,-0.40)(0.515,-0.31)(0.545,-0.37)(0.565,-0.28)(0.585,-0.35)(0.605,-0.44)(0.635,-0.30)(0.655,-0.25)(0.675,-0.42)(0.695,-0.29)(0.715,-0.36)(0.745,-0.28)(0.765,-0.40)(0.785,-0.25)(0.805,-0.33)(0.825,-0.38)(0.845,-0.27)(0.865,-0.31)};
\addplot[rpt] coordinates {(0.23,-0.41)(0.25,-0.34)(0.27,-0.30)(0.30,-0.38)(0.33,-0.35)(0.36,-0.42)(0.38,-0.37)(0.40,-0.46)(0.41,-0.39)(0.42,-0.52)(0.43,-0.34)(0.44,-0.45)(0.45,-0.40)(0.46,-0.55)(0.47,-0.37)(0.48,-0.49)(0.49,-0.42)(0.50,-0.33)(0.51,-0.47)(0.52,-0.61)(0.53,-0.40)(0.54,-0.52)(0.55,-0.36)(0.56,-0.45)(0.565,-0.64)(0.57,-0.39)(0.58,-0.50)(0.59,-0.43)(0.60,-0.35)(0.61,-0.56)(0.62,-0.41)(0.63,-0.47)(0.64,-0.19)(0.65,-0.38)(0.66,-0.52)(0.67,-0.44)(0.68,-0.36)(0.69,-0.49)(0.70,-0.60)(0.705,-0.42)(0.71,-0.70)(0.72,-0.39)(0.73,-0.54)(0.74,-0.45)(0.75,-0.34)(0.76,-0.50)(0.77,-0.41)(0.78,-0.46)(0.79,-0.37)(0.80,-0.52)(0.81,-0.43)(0.82,-0.35)(0.83,-0.48)(0.84,-0.40)(0.85,-0.55)(0.86,-0.44)(0.88,-0.40)(0.91,-0.45)(0.95,-0.27)(0.99,-0.30)(0.55,-0.27)(0.64,-0.29)(0.70,-0.25)(0.60,-0.58)(0.50,-0.56)(0.66,-0.32)(0.74,-0.30)(0.62,-0.50)(0.47,-0.46)(0.78,-0.56)
 (0.435,-0.40)(0.455,-0.46)(0.465,-0.36)(0.485,-0.51)(0.495,-0.41)(0.505,-0.48)(0.515,-0.55)(0.525,-0.38)(0.535,-0.44)(0.545,-0.51)(0.555,-0.41)(0.565,-0.57)(0.575,-0.37)(0.585,-0.48)(0.595,-0.44)(0.605,-0.38)(0.615,-0.50)(0.625,-0.55)(0.645,-0.45)(0.655,-0.36)(0.675,-0.49)(0.685,-0.43)(0.69,-0.56)(0.70,-0.40)(0.71,-0.47)(0.715,-0.35)(0.725,-0.53)(0.73,-0.60)(0.735,-0.43)(0.745,-0.38)(0.755,-0.51)(0.765,-0.42)(0.775,-0.48)(0.785,-0.34)(0.795,-0.45)(0.805,-0.40)(0.815,-0.52)(0.825,-0.36)(0.845,-0.44)(0.855,-0.38)(0.865,-0.47)(0.40,-0.41)(0.37,-0.44)
 (0.36,0)(0.48,0)(0.53,0)(0.56,0)(0.62,0)(0.63,0)(0.64,0)(0.65,0)(0.67,0)(0.73,0)};
\addplot[tpt] coordinates {(0.41,0)(0.43,0)(0.44,0)(0.45,0)(0.46,0)(0.47,0)(0.49,0)(0.51,0)(0.53,0)(0.56,0)(0.58,0)(0.60,0)(0.63,0)(0.64,0)(0.66,0)(0.69,0)(0.70,0)(0.71,0)(0.73,0)(0.74,0)(0.76,0)(0.77,0)(0.78,0)(0.79,0)(0.80,0)(0.82,0)(0.83,0)(0.88,0)(0.89,0)(0.90,0)(0.96,0)(0.97,0)(0.70,0.48)(0.736,0.26)(0.77,0.25)(0.833,0.61)(0.865,0.21)(0.88,0.12)(0.905,0.41)(0.905,0.43)};
\addplot[band] coordinates {(0.23,-0.13)(0.3,-0.28)(0.4,-0.35)(0.5,-0.375)(0.6,-0.385)(0.7,-0.385)(0.8,-0.37)(0.9,-0.32)(0.99,-0.18)(0.99,-0.53)(0.9,-0.45)(0.8,-0.44)(0.7,-0.44)(0.6,-0.435)(0.5,-0.425)(0.4,-0.42)(0.3,-0.44)(0.23,-0.50)(0.23,-0.13)};
\addplot[rline] coordinates {(0.23,-0.33)(0.3,-0.36)(0.4,-0.385)(0.5,-0.40)(0.6,-0.41)(0.7,-0.41)(0.8,-0.40)(0.9,-0.38)(0.99,-0.345)};
\addplot[band] coordinates {(0.205,-0.01)(0.25,-0.13)(0.3,-0.19)(0.35,-0.205)(0.4,-0.215)(0.45,-0.225)(0.5,-0.245)(0.55,-0.265)(0.6,-0.265)(0.65,-0.24)(0.7,-0.21)(0.75,-0.175)(0.8,-0.12)(0.9,-0.01)(0.975,0.26)(0.975,-0.17)(0.9,-0.15)(0.8,-0.24)(0.75,-0.265)(0.7,-0.29)(0.65,-0.30)(0.6,-0.325)(0.55,-0.335)(0.5,-0.315)(0.45,-0.305)(0.4,-0.305)(0.35,-0.315)(0.3,-0.35)(0.25,-0.43)(0.205,-0.53)(0.205,-0.01)};
\addplot[tline] coordinates {(0.205,-0.305)(0.3,-0.27)(0.35,-0.26)(0.4,-0.26)(0.45,-0.265)(0.5,-0.28)(0.55,-0.30)(0.6,-0.295)(0.65,-0.27)(0.7,-0.24)(0.75,-0.215)(0.8,-0.185)(0.85,-0.14)(0.9,-0.08)(0.975,-0.01)};
\node[rho,text=cteal] at (axis description cs:0.0245,0.873) {Rho = +0.21 (P = 0.002)};
\node[rho,text=cred] at (axis description cs:0.0245,0.754) {Rho = −0.04 (P = 0.53)};
\end{axis}
\end{tikzpicture}
\end{document}
